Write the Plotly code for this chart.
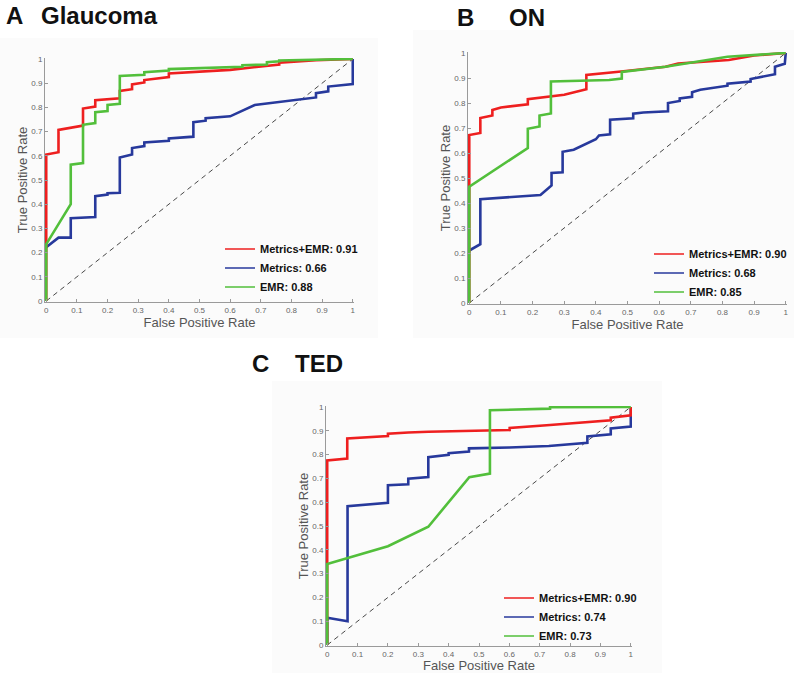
import plotly.graph_objects as go

W, H = 794, 673

# ---------------- data ----------------
# Panel A: Glaucoma
glaucoma_combo_fpr = [0, 0, 0.04, 0.04, 0.12, 0.12, 0.16, 0.16, 0.24, 0.24, 0.28, 0.28, 0.32, 0.32, 0.40, 0.40, 0.60, 0.72, 0.76, 0.76, 0.88, 1.0]
glaucoma_combo_tpr = [0, 0.605, 0.615, 0.707, 0.725, 0.795, 0.803, 0.830, 0.838, 0.868, 0.875, 0.895, 0.903, 0.913, 0.925, 0.940, 0.955, 0.970, 0.977, 0.985, 0.995, 1.0]
glaucoma_metrics_fpr = [0, 0.04, 0.08, 0.08, 0.16, 0.16, 0.20, 0.20, 0.24, 0.24, 0.28, 0.28, 0.32, 0.32, 0.40, 0.40, 0.48, 0.48, 0.52, 0.52, 0.60, 0.68, 0.88, 0.88, 0.92, 0.92, 1.0, 1.0]
glaucoma_metrics_tpr = [0.222, 0.262, 0.262, 0.342, 0.347, 0.433, 0.440, 0.445, 0.447, 0.593, 0.605, 0.632, 0.640, 0.655, 0.662, 0.672, 0.679, 0.739, 0.745, 0.755, 0.763, 0.810, 0.841, 0.859, 0.866, 0.886, 0.896, 1.0]
glaucoma_emr_fpr = [0, 0, 0.08, 0.08, 0.12, 0.12, 0.16, 0.16, 0.20, 0.20, 0.24, 0.24, 0.32, 0.32, 0.40, 0.40, 0.64, 0.64, 0.72, 0.72, 0.76, 0.76, 1.0]
glaucoma_emr_tpr = [0, 0.235, 0.400, 0.563, 0.570, 0.728, 0.735, 0.780, 0.785, 0.810, 0.815, 0.930, 0.935, 0.945, 0.952, 0.958, 0.968, 0.974, 0.977, 0.987, 0.990, 0.994, 1.0]

# Panel B: ON
on_combo_fpr = [0, 0, 0.035, 0.035, 0.073, 0.073, 0.10, 0.185, 0.185, 0.30, 0.37, 0.37, 0.48, 0.62, 0.66, 0.82, 0.90, 1.0]
on_combo_tpr = [0, 0.672, 0.680, 0.740, 0.750, 0.772, 0.782, 0.795, 0.815, 0.833, 0.855, 0.912, 0.926, 0.945, 0.958, 0.972, 0.990, 1.0]
on_metrics_fpr = [0, 0.035, 0.035, 0.07, 0.20, 0.225, 0.26, 0.26, 0.295, 0.295, 0.33, 0.40, 0.41, 0.445, 0.445, 0.518, 0.518, 0.55, 0.628, 0.628, 0.665, 0.665, 0.704, 0.704, 0.73, 0.816, 0.816, 0.889, 0.889, 0.966, 0.966, 0.997, 1.0]
on_metrics_tpr = [0.21, 0.235, 0.415, 0.418, 0.428, 0.432, 0.470, 0.520, 0.523, 0.605, 0.613, 0.655, 0.670, 0.675, 0.733, 0.739, 0.757, 0.762, 0.767, 0.800, 0.808, 0.818, 0.825, 0.843, 0.853, 0.869, 0.877, 0.886, 0.896, 0.915, 0.945, 0.957, 1.0]
on_emr_fpr = [0, 0, 0.185, 0.185, 0.222, 0.222, 0.258, 0.258, 0.442, 0.482, 0.482, 0.62, 0.816, 1.0]
on_emr_tpr = [0, 0.465, 0.620, 0.697, 0.706, 0.750, 0.758, 0.886, 0.892, 0.898, 0.924, 0.945, 0.985, 1.0]

# Panel C: TED
ted_combo_fpr = [0, 0, 0.066, 0.066, 0.20, 0.20, 0.267, 0.333, 0.601, 0.601, 0.734, 0.80, 0.868, 0.934, 0.934, 1.0, 1.0]
ted_combo_tpr = [0, 0.775, 0.783, 0.868, 0.878, 0.888, 0.893, 0.896, 0.903, 0.912, 0.924, 0.931, 0.939, 0.944, 0.955, 0.965, 1.0]
ted_metrics_fpr = [0, 0, 0.067, 0.067, 0.20, 0.20, 0.267, 0.267, 0.333, 0.333, 0.40, 0.40, 0.467, 0.467, 0.60, 0.73, 0.857, 0.857, 0.934, 0.934, 1.0, 1.0]
ted_metrics_tpr = [0, 0.115, 0.100, 0.583, 0.597, 0.671, 0.675, 0.699, 0.706, 0.789, 0.799, 0.806, 0.813, 0.826, 0.830, 0.836, 0.849, 0.876, 0.885, 0.910, 0.918, 1.0]
ted_emr_fpr = [0, 0, 0.20, 0.333, 0.468, 0.536, 0.536, 0.734, 0.734, 1.0]
ted_emr_tpr = [0, 0.340, 0.415, 0.497, 0.705, 0.720, 0.986, 0.993, 0.999, 1.0]

series_names = ["Metrics+EMR", "Metrics", "EMR"]
auc_glaucoma = ["0.91", "0.66", "0.88"]
auc_on = ["0.90", "0.68", "0.85"]
auc_ted = ["0.90", "0.74", "0.73"]
panel_letters = ["A", "B", "C"]
panel_titles = ["Glaucoma", "ON", "TED"]
tick_values = [0, 0.1, 0.2, 0.3, 0.4, 0.5, 0.6, 0.7, 0.8, 0.9, 1]
tick_labels = ["0", "0.1", "0.2", "0.3", "0.4", "0.5", "0.6", "0.7", "0.8", "0.9", "1"]
diag = [0, 1]

# ---------------- styling ----------------
RED = "#ee1f1f"
BLUE = "#27399c"
GREEN = "#52bf3b"
colors = [RED, BLUE, GREEN]
FONT = "Liberation Sans, Arial, Helvetica, sans-serif"


def px_x(x):
    # page pixel -> paper fraction
    return x / W


def px_y(y):
    return 1 - y / H


# page-pixel boxes of plot areas: (left, right, top, bottom)
boxes = [(45, 354, 58, 302), (468, 787, 52, 304), (326, 632, 406, 646)]
# legend anchor: (text-left x, middle-row y)
legend_pos = [(260, 268), (689, 273), (539, 617)]
# panel title positions: (letter x, word x, cap centre y)
title_pos = [(4, 39, 15), (455, 507, 17), (250, 293, 363)]
# light figure backgrounds (left, right, top, bottom)
bg_boxes = [(0, 378, 38, 338), (413, 794, 30, 338), (272, 662, 381, 673)]

panels = [
    ((glaucoma_combo_fpr, glaucoma_combo_tpr), (glaucoma_metrics_fpr, glaucoma_metrics_tpr), (glaucoma_emr_fpr, glaucoma_emr_tpr), auc_glaucoma),
    ((on_combo_fpr, on_combo_tpr), (on_metrics_fpr, on_metrics_tpr), (on_emr_fpr, on_emr_tpr), auc_on),
    ((ted_combo_fpr, ted_combo_tpr), (ted_metrics_fpr, ted_metrics_tpr), (ted_emr_fpr, ted_emr_tpr), auc_ted),
]

fig = go.Figure()
layout = dict(
    width=W, height=H,
    margin=dict(l=0, r=0, t=0, b=0, autoexpand=False),
    paper_bgcolor="white", plot_bgcolor="white",
    font=dict(family=FONT, color="#555555"),
    showlegend=True,
    shapes=[], annotations=[],
)

for i, panel in enumerate(panels):
    sfx = "" if i == 0 else str(i + 1)
    xa, ya = "x" + sfx, "y" + sfx
    leg = "legend" if i == 0 else "legend" + str(i + 1)
    curves = panel[:3]
    aucs = panel[3]

    # chance diagonal
    fig.add_trace(go.Scatter(x=diag, y=diag, mode="lines", xaxis=xa, yaxis=ya,
                             line=dict(color="#333333", width=0.9, dash="5px,4px"),
                             showlegend=False, hoverinfo="skip"))
    # ROC curves: blue below, red, then green on top
    for k in [1, 0, 2]:
        fx, ty = curves[k]
        fig.add_trace(go.Scatter(x=fx, y=ty, mode="lines", xaxis=xa, yaxis=ya,
                                 line=dict(color=colors[k], width=2.6),
                                 showlegend=False, name=series_names[k]))
    # legend entries (thin lines like the original key)
    for k in range(3):
        fig.add_trace(go.Scatter(x=[None], y=[None], mode="lines", xaxis=xa, yaxis=ya,
                                 line=dict(color=colors[k], width=1.6),
                                 name=f"{series_names[k]}: {aucs[k]}", legend=leg))

    l, r, t, b = boxes[i]
    axis_common = dict(
        range=[-0.004, 1.004], tickmode="array", tickvals=tick_values, ticktext=tick_labels,
        showgrid=False, zeroline=False, showline=True, linecolor="#9a9a9a", linewidth=1,
        ticks="inside", ticklen=3, tickcolor="#9a9a9a",
        tickfont=dict(size=8, color="#666666", family=FONT),
        fixedrange=True, automargin=False,
    )
    layout["xaxis" + sfx] = dict(axis_common, domain=[px_x(l), px_x(r)], anchor=ya,
                                 title=dict(text="False Positive Rate", standoff=2,
                                            font=dict(size=13, color="#555555")))
    layout["yaxis" + sfx] = dict(axis_common, domain=[px_y(b), px_y(t)], anchor=xa,
                                 title=dict(text="True Positive Rate", standoff=0,
                                            font=dict(size=13, color="#555555")))

    lx, ly = legend_pos[i]
    layout[leg] = dict(x=px_x(lx - 40), y=px_y(ly), xanchor="left", yanchor="middle",
                       bgcolor="rgba(0,0,0,0)", borderwidth=0,
                       font=dict(size=11, color="#111111", family=FONT, weight="bold"),
                       tracegroupgap=0)

    bl, br, bt, bb = bg_boxes[i]
    layout["shapes"].append(dict(type="rect", xref="paper", yref="paper",
                                 x0=px_x(bl), x1=px_x(br), y0=px_y(bb), y1=px_y(bt),
                                 fillcolor="#fbfbfb", line=dict(width=0), layer="below"))

    tx1, tx2, tyc = title_pos[i]
    for txt, tx in ((panel_letters[i], tx1), (panel_titles[i], tx2)):
        layout["annotations"].append(dict(text=f"<b>{txt}</b>", x=px_x(tx), y=px_y(tyc),
                                          xref="paper", yref="paper", xanchor="left", yanchor="middle",
                                          showarrow=False,
                                          font=dict(size=24, color="#111111", family=FONT)))

fig.update_layout(**layout)
# the figure is exactly page-sized: drop the browser's default body margin
fig.write_html("out.html", config={"displayModeBar": False},
               post_script="document.body.style.margin='0px';")
